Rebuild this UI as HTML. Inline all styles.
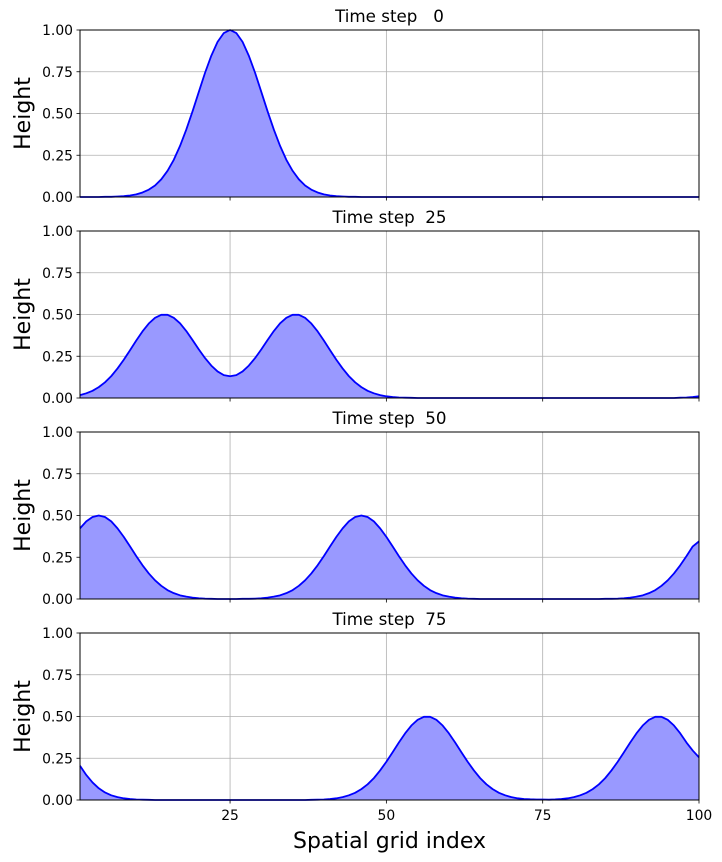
<!DOCTYPE html>
<html><head><meta charset="utf-8"><style>
html,body{margin:0;padding:0;background:#fff;}
svg{display:block;font-family:"DejaVu Sans","Liberation Sans",sans-serif;}
</style></head><body>
<svg id="chart" width="722" height="862" xmlns="http://www.w3.org/2000/svg"></svg>
<script>
const steps = [0, 25, 50, 75];
const xTicks = [25, 50, 75, 100];
const yTicks = [0, 0.25, 0.5, 0.75, 1];
const yTickLabels = ["0.00", "0.25", "0.50", "0.75", "1.00"];
const series0 = [0,0,0,0,.001,.001,.003,.005,.009,.016,
.027,.044,.069,.106,.157,.223,.306,.404,.513,.629,
.744,.846,.929,.982,1,.982,.929,.846,.744,.629,
.513,.404,.306,.223,.157,.106,.069,.044,.027,.016,
.009,.005,.003,.001,.001,0,0,0,0,0,
0,0,0,0,0,0,0,0,0,0,
0,0,0,0,0,0,0,0,0,0,
0,0,0,0,0,0,0,0,0,0,
0,0,0,0,0,0,0,0,0,0,
0,0,0,0,0,0,0,0,0,0];
const series25 = [.017,.028,.043,.065,.094,.131,.177,.229,.286,.344,
.399,.446,.480,.498,.498,.480,.447,.401,.347,.291,
.239,.194,.159,.137,.130,.137,.159,.194,.239,.291,
.347,.401,.447,.480,.498,.498,.480,.446,.399,.344,
.286,.229,.177,.131,.094,.065,.043,.028,.017,.010,
.0055,.003,.002,.001,0,0,0,0,0,0,
0,0,0,0,0,0,0,0,0,0,
0,0,0,0,0,0,0,0,0,0,
0,0,0,0,0,0,0,0,0,0,
0,0,0,0,0,0,.002,.003,.0055,.010];
const series50 = [.423,.465,.491,.5,.491,.465,.423,.372,.315,.257,
.202,.153,.112,.079,.053,.035,.022,.014,.008,.004,
.002,.001,0,0,0,0,.001,.001,.002,.004,
.008,.014,.022,.035,.053,.079,.112,.153,.202,.257,
.315,.372,.423,.465,.491,.5,.491,.465,.423,.372,
.315,.257,.202,.153,.112,.079,.053,.035,.022,.014,
.008,.004,.002,.001,0,0,0,0,0,0,
0,0,0,0,0,0,0,0,0,0,
0,0,0,0,.001,.001,.002,.004,.008,.014,
.022,.035,.053,.079,.112,.153,.202,.257,.315,.345];
const series75 = [.205,.150,.105,.070,.045,.028,.017,.010,.0055,.003,
.002,.001,0,0,0,0,0,0,0,0,
0,0,0,0,0,0,0,0,0,0,
0,0,0,0,0,0,0,.001,.002,.003,
.0055,.010,.017,.028,.043,.065,.094,.131,.177,.229,
.286,.344,.399,.446,.480,.498,.498,.480,.446,.399,
.344,.286,.229,.177,.131,.094,.065,.043,.028,.017,
.010,.006,.004,.003,.003,.002,.0033,.0055,.010,.017,
.028,.043,.065,.094,.131,.177,.229,.286,.344,.399,
.446,.480,.498,.498,.480,.446,.399,.344,.296,.255];
const allSeries = [series0, series25, series50, series75];

const NS = "http://www.w3.org/2000/svg";
const svg = document.getElementById("chart");
const L = 80, R = 699, panelTops = [30, 231, 432, 633], PH = 167;
const xMin = 1, xMax = 100;
function xs(v){ return L + (v - xMin) / (xMax - xMin) * (R - L); }
function mk(tag, attrs, parent){ const e = document.createElementNS(NS, tag); for (const k in attrs) e.setAttribute(k, attrs[k]); (parent||svg).appendChild(e); return e; }

steps.forEach((step, p) => {
  const top = panelTops[p], bot = top + PH;
  const ys = v => bot - v * PH;
  const g = mk("g", {});
  
  
  xTicks.forEach(t => { if (t < xMax) { const l = mk("line", {x1:xs(t), x2:xs(t), y1:top, y2:bot, stroke:"#b0b0b0", "stroke-width":0.8}, g);
    
     } });
  yTicks.forEach(t => { if (t > 0 && t < 1) { const l = mk("line", {x1:L, x2:R, y1:ys(t), y2:ys(t), stroke:"#b0b0b0", "stroke-width":0.8}, g);
    
     } });
  const data = allSeries[p];
  let pts = data.map((v, i) => xs(i + 1).toFixed(2) + "," + ys(v).toFixed(2));
  const area = mk("polygon", {points: xs(1) + "," + bot + " " + pts.join(" ") + " " + xs(100) + "," + bot, fill:"#9999ff", stroke:"none"}, g);
  
  
  const line = mk("polyline", {points: pts.join(" "), fill:"none", stroke:"#0000ff", "stroke-width":1.8, "stroke-linejoin":"round"}, g);
  
  
  const frame = mk("rect", {x:L, y:top, width:R-L, height:PH, fill:"none", stroke:"#000", "stroke-width":1}, g);
  
  
  yTicks.forEach((t, i) => {
    mk("line", {x1:L-3.5, x2:L, y1:ys(t), y2:ys(t), stroke:"#000", "stroke-width":0.8}, g);
    const tx = mk("text", {x:L-7, y:ys(t)+5, "text-anchor":"end", "font-size":"13.9px", fill:"#000"}, g);
    tx.textContent = yTickLabels[i];
    
    
  });
  xTicks.forEach(t => {
    mk("line", {x1:xs(t), x2:xs(t), y1:bot, y2:bot+3.5, stroke:"#000", "stroke-width":0.8}, g);
    if (p === 3) {
      const tx = mk("text", {x:xs(t), y:bot+20, "text-anchor":"middle", "font-size":"13.9px", fill:"#000"}, g);
      tx.textContent = String(t);
      
      
    }
  });
  const title = mk("text", {x:(L+R)/2, y:top-8, "text-anchor":"middle", "font-size":"16.7px", fill:"#000"}, g);
  title.setAttribute("xml:space", "preserve");
  title.style.whiteSpace = "pre";
  title.textContent = "Time step " + String(step).padStart(3, " ");
  
  
  const yl = mk("text", {x:0, y:0, transform:"translate(30," + (top + PH/2) + ") rotate(-90)", "text-anchor":"middle", "font-size":"22px", fill:"#000"}, g);
  yl.textContent = "Height";
  
  
});
const xl = mk("text", {x:(L+R)/2, y:848, "text-anchor":"middle", "font-size":"22px", fill:"#000"});
xl.textContent = "Spatial grid index";


</script>
</body></html>
